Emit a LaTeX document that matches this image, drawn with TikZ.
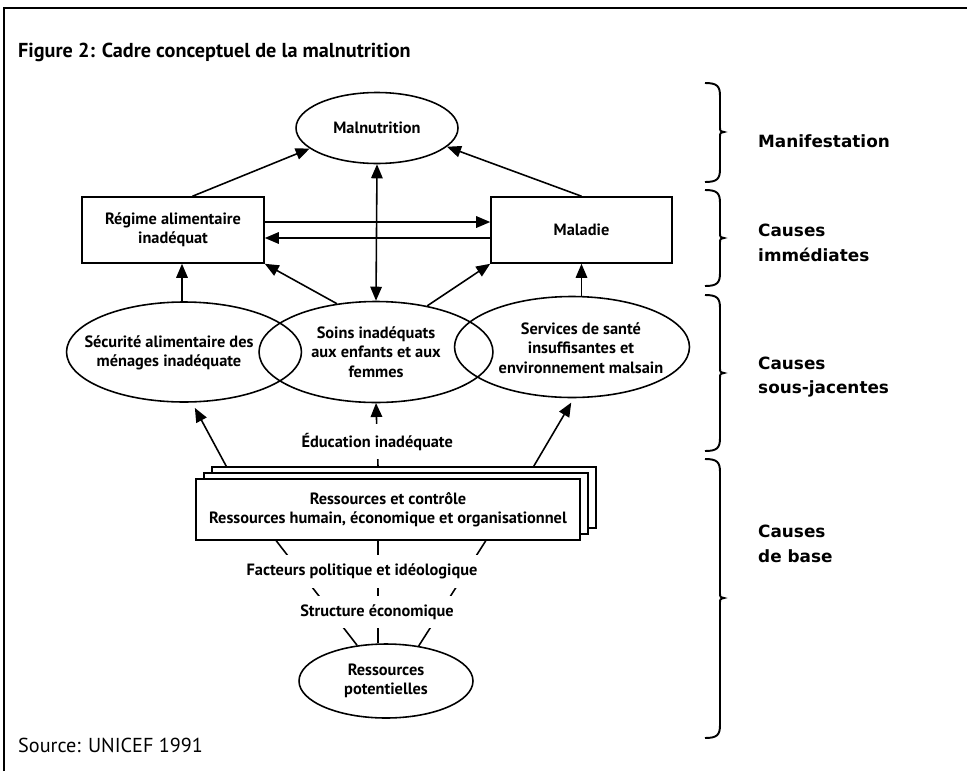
\documentclass[tikz,border=0pt]{standalone}
\usepackage{fontspec}
\setmainfont{PT Sans}
\newfontfamily\sidefont{DejaVu Sans}
\usetikzlibrary{arrows.meta,calc,shapes.geometric,shadows}
\def\accolade(#1,#2,#3,#4){\draw[line width=1.1pt] (#1-15,#2) .. controls (#1-3,#2) and (#1,#2+3) .. (#1,#2+13) -- (#1,#4-5) .. controls (#1,#4-1) .. (#1+4,#4) .. controls (#1,#4+1) .. (#1,#4+5) -- (#1,#3-13) .. controls (#1,#3-3) and (#1-3,#3) .. (#1-15,#3);}
\tikzset{
  oval/.style={ellipse, draw, line width=0.9pt, fill=white, inner sep=0pt, align=center,
    font=\fontsize{9.3}{11}\selectfont\bfseries},
  boite/.style={rectangle, draw, line width=0.9pt, fill=white, inner sep=0pt, align=center,
    font=\fontsize{9.3}{11}\selectfont\bfseries},
  texte/.style={align=center, inner sep=0pt, font=\fontsize{9.3}{11}\selectfont\bfseries},
  fleche/.style={-{Triangle[length=2.8mm,width=2.3mm]}, line width=0.9pt},
  lien/.style={line width=0.9pt},
  etiq/.style={fill=white, inner xsep=2pt, inner ysep=0.17cm, font=\fontsize{9.3}{11}\selectfont\bfseries},
  niveau/.style={anchor=west, align=left, font=\sidefont\fontsize{9.6}{14}\selectfont\bfseries}
}

\begin{document}
\begin{tikzpicture}[x=0.02cm, y=-0.02cm]
  %%%%% START %%%%%
  \useasboundingbox (0,0) rectangle (967,771);
  \draw[line width=1.2pt] (4,771) -- (4,8) -- (967,8);

  \node[anchor=west, font=\fontsize{11.5}{13}\selectfont\bfseries] (titre) at (12,52)
    {Figure 2: Cadre conceptuel de la malnutrition};

  % manifestation et causes immediates
  \node[oval, minimum width=3.24cm, minimum height=1.42cm] (malnut) at (377,128) {Malnutrition};
  \node[boite, minimum width=3.64cm, minimum height=1.32cm] (regime) at (173,230)
    {R\'egime alimentaire\\inad\'equat};
  \node[boite, minimum width=3.62cm, minimum height=1.32cm] (maladie) at (581.5,230) {Maladie};

  % causes sous-jacentes
  \node[oval, minimum width=4.7cm, minimum height=2cm] (secu) at (184,352) {};
  \node[texte] (secu-t) at (169,353) {S\'ecurit\'e alimentaire des\\m\'enages inad\'equate};
  \node[oval, minimum width=4.7cm, minimum height=2.02cm] (services) at (572,347) {};
  \node[texte] (services-t) at (581,348) {Services de sant\'e\\insuffisantes et\\environnement malsain};
  \node[oval, minimum width=4.68cm, minimum height=2.02cm, fill=none] (soins) at (376,352)
    {Soins inad\'equats\\aux enfants et aux\\femmes};

  % causes de base
  \node[boite, minimum width=7.68cm, minimum height=1.22cm,
    copy shadow={shadow xshift=0.32cm, shadow yshift=0.24cm, fill=white, draw=black, line width=0.9pt},
    copy shadow={shadow xshift=0.16cm, shadow yshift=0.12cm, fill=white, draw=black, line width=0.9pt}]
    (resso) at (388,509.5)
    {Ressources et contr\^ole\\Ressources humain, \'economique et organisationnel};
  \node[oval, minimum width=3.48cm, minimum height=1.48cm] (potent) at (386,681)
    {Ressources\\potentielles};

  %%%%% fleches %%%%%
  \draw[fleche] (regime.60) -- (malnut.197);
  \draw[fleche] (maladie.north) -- (malnut.-15);
  \draw[{Triangle[length=2.8mm,width=2.3mm]}-{Triangle[length=2.8mm,width=2.3mm]}, line width=0.9pt]
    (malnut.south) -- (soins.north);
  \draw[fleche] ([yshift=0.16cm]regime.east) -- ([yshift=0.16cm]maladie.west);
  \draw[fleche] ([yshift=-0.16cm]maladie.west) -- ([yshift=-0.16cm]regime.east);

  \draw[fleche] (regime.south -| 182,0) ++(0,39) -- (regime.south -| 182,0);
  \draw[fleche] (soins.129) -- (regime.south east);
  \draw[fleche] (soins.42) -- (maladie.south west);
  \draw[fleche] (maladie.south |- services.north) -- (maladie.south);

  \draw[fleche, shorten >=0.12cm] ($(resso.north west)+(31,-12)$) -- (secu.-81);
  \draw[fleche, shorten >=0.1cm] ($(resso.north east)+(-47,-12)$) -- (services.-88);
  \draw[fleche] ($(resso.north)+(-10,-12)$) -- (soins.south |- 0,403)
    node[etiq, pos=0.39] (educ) {\'Education inad\'equate};

  \draw[lien] ($(resso.south west)+(81,0)$) -- (potent.129);
  \draw[lien] ($(resso.south)+(-10,0)$) coordinate (milieu) -- (milieu |- potent.north);
  \draw[lien] ($(resso.south east)+(-95,0)$) -- (potent.47);
  \node[etiq] (facteurs) at (362,571.5) {Facteurs politique et id\'eologique};
  \node[etiq] (structure) at (377,612) {Structure \'economique};

  %%%%% accolades %%%%%
  \accolade(720,83,182,132)
  \accolade(720,190,286,238)
  \accolade(720,295,451,373)
  \accolade(720,459,738,598)

  \node[niveau] (manif) at (752,141) {Manifestation};
  \node[niveau] (immed) at (752,243) {Causes\\imm\'ediates};
  \node[niveau] (sousj) at (752,377) {Causes\\sous-jacentes};
  \node[niveau] (base) at (752,544) {Causes\\de base};

  \node[anchor=west, font=\fontsize{11.5}{13}\selectfont] (source) at (12,745) {Source: UNICEF 1991};
  %%%%% END %%%%%
\end{tikzpicture}
\end{document}
